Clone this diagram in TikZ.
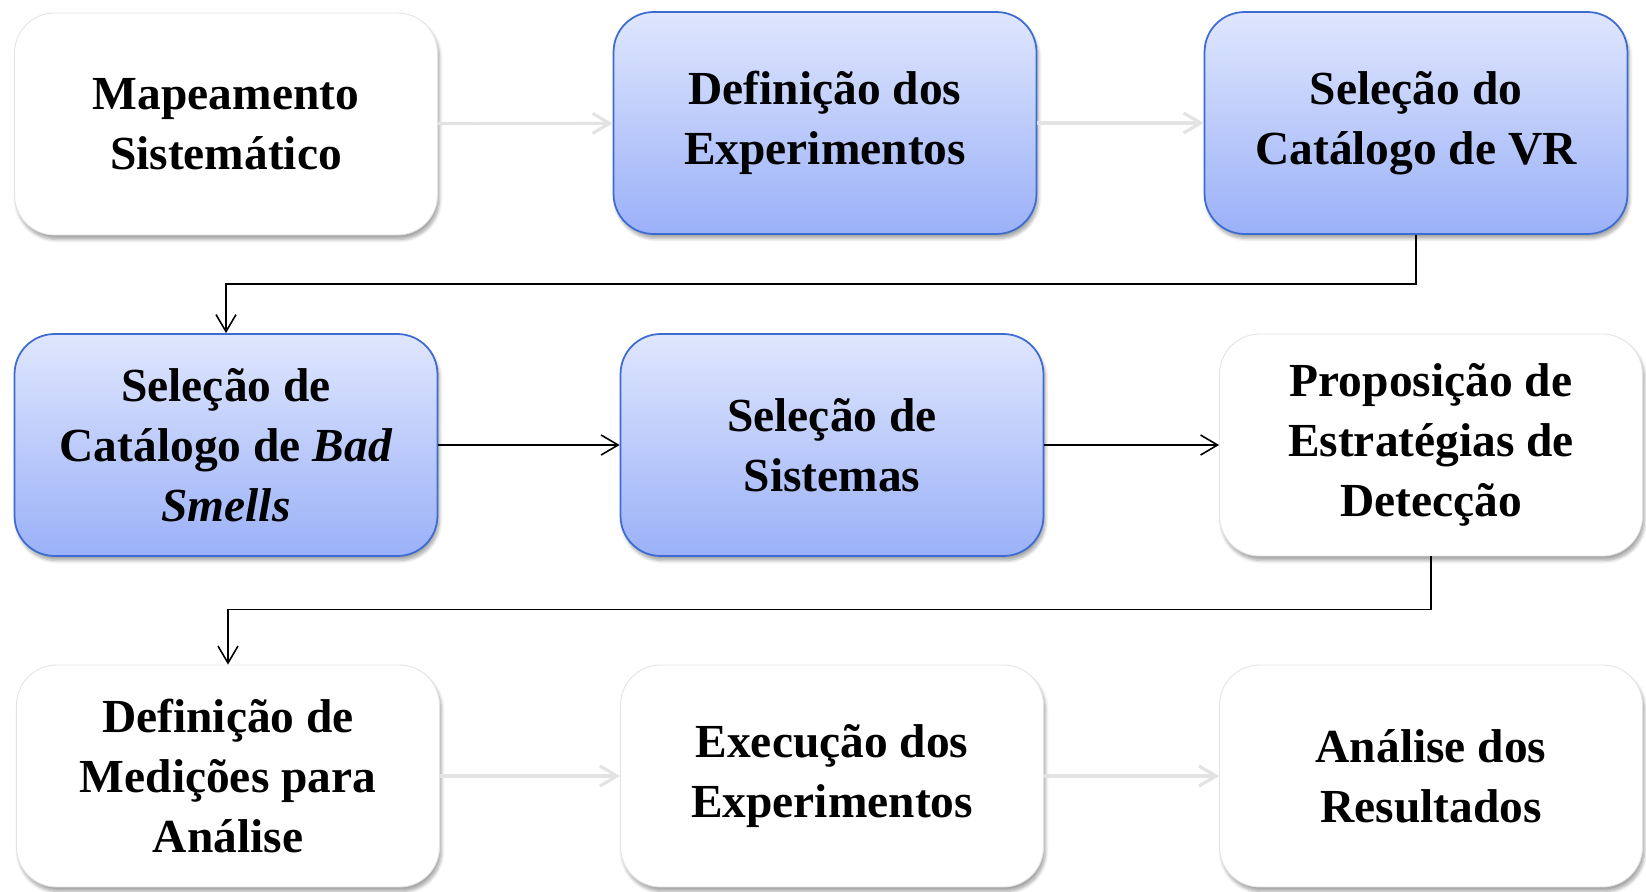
\documentclass[tikz,border=0pt]{standalone}
\usepackage{fontspec}
\setmainfont{Liberation Serif}
\usetikzlibrary{arrows.meta,shadows.blur}

\definecolor{boxtop}{HTML}{DFE6FD}
\definecolor{boxbottom}{HTML}{9BB1F8}
\definecolor{boxline}{HTML}{3C6BD2}
\definecolor{paleline}{HTML}{E3E3E3}

\tikzset{
	stage/.style={rounded corners=0.8cm, minimum width=8.46cm, minimum height=4.44cm,
		align=center, inner sep=0pt, font=\fontsize{27}{34}\selectfont\bfseries,
		blur shadow={shadow xshift=0.4mm, shadow yshift=-0.9mm, shadow blur steps=6, shadow opacity=35}},
	whitestage/.style={stage, fill=white, draw=paleline, line width=0.5pt},
	bluestage/.style={stage, top color=boxtop, bottom color=boxbottom, draw=boxline, line width=1pt},
	flow/.style={-{Straight Barb[length=3.4mm,width=4mm]}, line width=0.9pt},
	faded/.style={flow, draw=paleline, line width=1.8pt}
}

\begin{document}
\begin{tikzpicture}[x=0.02cm, y=-0.02cm]
	\useasboundingbox (0,0) rectangle (1646,892);
	% linha 1
	\node[whitestage] (map) at (226,124) {Mapeamento\\Sistemático};
	\node[bluestage] (defexp) at (825,123) {Definição dos\\Experimentos};
	\node[bluestage] (selvr) at (1416,123) {Seleção do\\Catálogo de VR};
	% linha 2
	\node[bluestage] (selbad) at (226,445) {Seleção de\\Catálogo de \textit{Bad}\\\textit{Smells}};
	\node[bluestage] (selsis) at (832,445) {Seleção de\\Sistemas};
	\node[whitestage] (prop) at (1431,445) {Proposição de\\Estratégias de\\Detecção};
	% linha 3
	\node[whitestage] (medi) at (228,776) {Definição de\\Medições para\\Análise};
	\node[whitestage] (exec) at (832,776) {Execução dos\\Experimentos};
	\node[whitestage] (anal) at (1431,776) {Análise dos\\Resultados};

	\draw[faded] (map) -- (defexp);
	\draw[faded] (defexp) -- (selvr);
	\draw[flow] (selvr.south) -- ++(0,49) -| (selbad.north);
	\draw[flow] (selbad) -- (selsis);
	\draw[flow] (selsis) -- (prop);
	\draw[flow] (prop.south) -- ++(0,53) -| (medi.north);
	\draw[faded] (medi) -- (exec);
	\draw[faded] (exec) -- (anal);
\end{tikzpicture}
\end{document}
